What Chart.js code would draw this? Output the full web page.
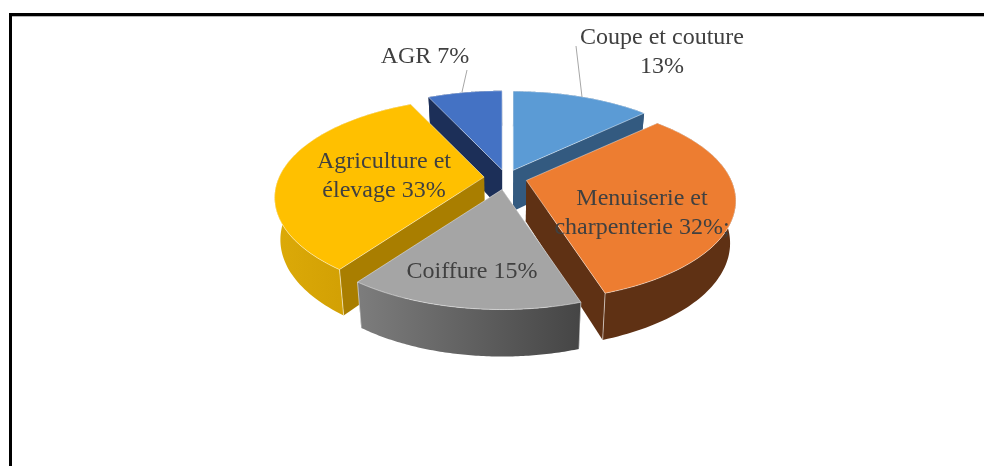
<!DOCTYPE html>
<html><head><meta charset="utf-8">
<style>
html,body{margin:0;padding:0;background:#fff;overflow:hidden}
#wrap{position:relative;width:984px;height:466px}
#frame{position:absolute;left:9px;top:13px;width:975px;height:453px;box-sizing:border-box;border-left:3px solid #000;border-top:3px solid #000;box-shadow:inset 0 1px 0 #b4b4b4}
canvas{position:absolute;left:0;top:0;filter:blur(0.45px)}
</style>
<script src="https://cdn.jsdelivr.net/npm/chart.js@4"></script>
</head><body>
<div id="wrap"><div id="frame"></div><canvas id="c" width="984" height="466"></canvas></div>
<script>
const categories = ['Coupe et couture','Menuiserie et charpenterie','Coiffure','Agriculture et élevage','AGR'];
const values = [13,32,15,33,7];
const faceColors = ['#5b9bd5','#ed7d31','#a5a5a5','#ffc000','#4472c4'];
const cutWallColors = ['#335a80','#5f3114','#636363','#a97e00','#1c2f58'];
const outerWallFrom = ['#335a80','#5f3114','#7d7d7d','#dcaa08','#1c2f58'];
const outerWallTo = ['#335a80','#5f3114','#454545','#c99700','#1c2f58'];
const explode = [18,21,25,22,18];
const labelLines = [['Coupe et couture','13%'],['Menuiserie et','charpenterie 32%;'],['Coiffure 15%'],['Agriculture et','élevage 33%'],['AGR 7%']];
const labelCentres = [[662,38],[642,199],[472,272],[384,162],[425,57]];
const leaders = [[[576,46],[582,97]],null,null,null,[[467,70],[462,92]]];
const drawOrder = [4,0,3,1,2];

const PERSP = 0.206, SQUASH = 0.465, DEPTH = 41, DEPTH_GROW = 6, TAPER = 0.975;

const pie3d = {
  id:'pie3d',
  beforeDatasetDraw(chart){
    const ctx = chart.ctx, arcs = chart.getDatasetMeta(0).data;
    const proj = (arc,a,r) => { // pie-plane point -> screen, with the explosion added in screen space
      const R = arc.outerRadius, X = Math.cos(a)*r, Y = Math.sin(a)*r, s = 1/(1-PERSP*Y);
      const mid = (arc.startAngle+arc.endAngle)/2, o = arc.options.offset;
      return {x:arc.x+X*R*s+Math.cos(mid)*o, y:arc.y+Y*R*SQUASH*s+Math.sin(mid)*o*SQUASH, Y};
    };
    const low = (arc,p) => ({x:arc.x+(p.x-arc.x)*TAPER, y:p.y+DEPTH+DEPTH_GROW*p.Y});
    const poly = (pts,fill,stroke) => {
      ctx.beginPath(); pts.forEach((p,i)=> i?ctx.lineTo(p.x,p.y):ctx.moveTo(p.x,p.y)); ctx.closePath();
      ctx.fillStyle = fill; ctx.fill();
      if(stroke){ctx.strokeStyle=stroke;ctx.lineWidth=1;ctx.stroke();}
    };
    ctx.save(); ctx.lineJoin='round';
    drawOrder.forEach(i=>{
      const arc = arcs[i], n = 90, rim = [];
      for(let k=0;k<=n;k++){ rim.push(proj(arc, arc.startAngle+(arc.endAngle-arc.startAngle)*k/n, 1)); }
      const apex = proj(arc,0,0);
      const first = rim[0], last = rim[n];
      poly([apex,first,low(arc,first),low(arc,apex)],cutWallColors[i]);
      poly([apex,last,low(arc,last),low(arc,apex)],cutWallColors[i]);
      const g = ctx.createLinearGradient(Math.min(...rim.map(p=>p.x)),0,Math.max(...rim.map(p=>p.x)),0);
      g.addColorStop(0,outerWallFrom[i]); g.addColorStop(1,outerWallTo[i]);
      poly(rim.concat(rim.slice().reverse().map(p=>low(arc,p))),g);
      [first,last].forEach(p=>{ if(p.Y>0){ const b=low(arc,p); ctx.strokeStyle='rgba(255,255,255,.55)';ctx.lineWidth=1;ctx.beginPath();ctx.moveTo(p.x,p.y);ctx.lineTo(b.x,b.y);ctx.stroke(); } });
      poly([apex,...rim],faceColors[i],'rgba(255,255,255,.45)');
    });
    ctx.restore();
    return false;
  },
  afterDraw(chart){
    const ctx = chart.ctx;
    ctx.save();
    ctx.strokeStyle='#a6a6a6'; ctx.lineWidth=1;
    leaders.forEach(l=>{ if(!l) return; ctx.beginPath(); ctx.moveTo(l[0][0],l[0][1]); ctx.lineTo(l[1][0],l[1][1]); ctx.stroke(); });
    ctx.fillStyle='#404040'; ctx.font='24px "Liberation Serif"'; ctx.textAlign='center'; ctx.textBaseline='middle';
    labelLines.forEach((lines,i)=>{ lines.forEach((t,j)=> ctx.fillText(t,labelCentres[i][0],labelCentres[i][1]+j*28.5)); });
    ctx.restore();
  }
};

new Chart(document.getElementById('c'),{
  type:'pie',
  data:{labels:categories,datasets:[{data:values,backgroundColor:faceColors,offset:explode,borderWidth:0}]},
  options:{
    responsive:false,animation:false,radius:205,
    layout:{padding:{left:28,bottom:110}},
    plugins:{legend:{display:false},tooltip:{enabled:false}}
  },
  plugins:[pie3d]
});
</script>
</body></html>
